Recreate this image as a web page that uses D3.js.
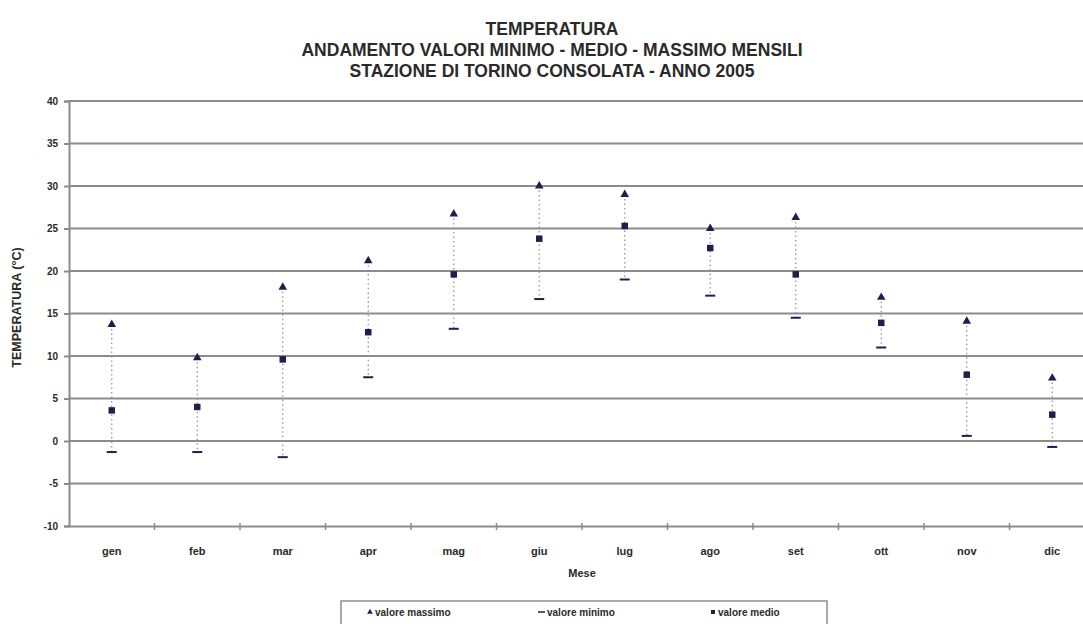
<!DOCTYPE html>
<html>
<head>
<meta charset="utf-8">
<script src="https://cdn.jsdelivr.net/npm/d3@7"></script>
<style>
  html, body { margin: 0; padding: 0; background: #fff; }
  svg { display: block; font-family: "Liberation Sans", Arial, sans-serif; }
</style>
</head>
<body>
<svg id="chart" width="1083" height="624"></svg>
<script>
// Monthly temperature, Torino Consolata station, 2005
const months = ["gen", "feb", "mar", "apr", "mag", "giu", "lug", "ago", "set", "ott", "nov", "dic"];
const maxValues  = [13.7, 9.8, 18.1, 21.2, 26.7, 30.0, 29.0, 25.0, 26.3, 16.9, 14.1, 7.4];
const meanValues = [3.6, 4.0, 9.6, 12.8, 19.6, 23.8, 25.3, 22.7, 19.6, 13.9, 7.8, 3.1];
const minValues  = [-1.3, -1.3, -1.9, 7.5, 13.2, 16.7, 19.0, 17.1, 14.5, 11.0, 0.6, -0.7];
const yTicks = [-10, -5, 0, 5, 10, 15, 20, 25, 30, 35, 40];
const titleLines = [
  "TEMPERATURA",
  "ANDAMENTO VALORI MINIMO - MEDIO - MASSIMO MENSILI",
  "STAZIONE DI TORINO CONSOLATA - ANNO 2005"
];
const legendItems = [
  { key: "max", label: "valore massimo" },
  { key: "min", label: "valore minimo" },
  { key: "mean", label: "valore medio" }
];

const svg = d3.select("#chart");
const markColor = "#1f1f4d";
const gridColor = "#8c8c8c";
const textColor = "#2a2a2a";

const plot = { left: 69, right: 1095, top: 101, bottom: 526 };

const x = d3.scaleBand().domain(months).range([plot.left, plot.right]).padding(0);
const y = d3.scaleLinear().domain([-10, 40]).range([plot.bottom, plot.top]);
const cx = d => x(d.m) + x.bandwidth() / 2;

const data = months.map((m, i) => ({ m, max: maxValues[i], mean: meanValues[i], min: minValues[i] }));

// Title block
const title = svg.append("g").attr("font-weight", "bold").attr("font-size", 17.5).attr("fill", textColor)
  .attr("text-anchor", "middle");
titleLines.forEach((t, i) => {
  title.append("text").attr("x", 552).attr("y", 35 + i * 21).text(t);
});

// Horizontal grid lines
svg.append("g").selectAll("line").data(yTicks.filter(d => d > -10)).join("line")
  .attr("x1", plot.left).attr("x2", plot.right)
  .attr("y1", d => y(d)).attr("y2", d => y(d))
  .attr("stroke", gridColor).attr("stroke-width", 2);

// Y axis
const yAxis = svg.append("g").attr("transform", `translate(${plot.left},0)`)
  .call(d3.axisLeft(y).tickValues(yTicks).tickSize(5).tickPadding(6).tickFormat(d => String(d)));
yAxis.select(".domain").attr("stroke", gridColor).attr("stroke-width", 2);
yAxis.selectAll(".tick line").attr("stroke", gridColor).attr("stroke-width", 2);
yAxis.selectAll(".tick text").attr("font-size", 10).attr("font-weight", "bold").attr("fill", textColor)
  .attr("font-family", "'Liberation Sans', Arial, sans-serif");

// X axis at the bottom of the plot
const xAxis = svg.append("g").attr("transform", `translate(0,${plot.bottom})`)
  .call(d3.axisBottom(x).tickSize(0).tickPadding(21));
xAxis.select(".domain").attr("stroke", gridColor).attr("stroke-width", 2);
xAxis.selectAll(".tick text").attr("font-size", 11).attr("font-weight", "bold").attr("fill", textColor)
  .attr("font-family", "'Liberation Sans', Arial, sans-serif");
// category boundary ticks
svg.append("g").selectAll("line").data(months.slice(1)).join("line")
  .attr("x1", d => x(d)).attr("x2", d => x(d))
  .attr("y1", plot.bottom - 3).attr("y2", plot.bottom + 4)
  .attr("stroke", gridColor).attr("stroke-width", 1.5);

// Axis titles
svg.append("text").attr("transform", `translate(21,${(plot.top + plot.bottom) / 2 - 6}) rotate(-90)`)
  .attr("text-anchor", "middle").attr("font-size", 12.5).attr("font-weight", "bold").attr("fill", textColor)
  .text("TEMPERATURA (°C)");
svg.append("text").attr("x", (plot.left + plot.right) / 2).attr("y", 577)
  .attr("text-anchor", "middle").attr("font-size", 11).attr("font-weight", "bold").attr("fill", textColor)
  .text("Mese");

// Range lines (min to max), dotted
const g = svg.append("g");
g.selectAll("line.range").data(data).join("line").attr("class", "range")
  .attr("x1", cx).attr("x2", cx)
  .attr("y1", d => y(d.max)).attr("y2", d => y(d.min))
  .attr("stroke", "#8a8aa6").attr("stroke-width", 1.2).attr("stroke-dasharray", "1.5,3");

const tri = d3.symbol().type(d3.symbolTriangle).size(32);
const sq = d3.symbol().type(d3.symbolSquare).size(42);

// Minimum: short dash
g.selectAll("line.min").data(data).join("line").attr("class", "min")
  .attr("x1", d => cx(d) - 5).attr("x2", d => cx(d) + 5)
  .attr("y1", d => y(d.min)).attr("y2", d => y(d.min))
  .attr("stroke", markColor).attr("stroke-width", 2);

// Maximum: triangle
g.selectAll("path.max").data(data).join("path").attr("class", "max")
  .attr("d", tri)
  .attr("transform", d => `translate(${cx(d)},${y(d.max)})`)
  .attr("fill", markColor);

// Mean: square
g.selectAll("path.mean").data(data).join("path").attr("class", "mean")
  .attr("d", sq)
  .attr("transform", d => `translate(${cx(d)},${y(d.mean)})`)
  .attr("fill", markColor);

// Legend
const legend = svg.append("g");
legend.append("rect").attr("x", 341).attr("y", 601).attr("width", 486).attr("height", 30)
  .attr("fill", "#fff").attr("stroke", gridColor).attr("stroke-width", 1.5);
const legendX = [367, 539, 710];
legendItems.forEach((item, i) => {
  const lg = legend.append("g").attr("transform", `translate(${legendX[i]},612)`);
  if (item.key === "max") lg.append("path").attr("d", d3.symbol().type(d3.symbolTriangle).size(14)).attr("transform", "translate(3,0)").attr("fill", markColor);
  if (item.key === "min") lg.append("line").attr("x1", -1).attr("x2", 6).attr("y1", 0).attr("y2", 0).attr("stroke", markColor).attr("stroke-width", 1.5);
  if (item.key === "mean") lg.append("path").attr("d", d3.symbol().type(d3.symbolSquare).size(16)).attr("transform", "translate(3,0)").attr("fill", markColor);
  lg.append("text").attr("x", 8).attr("y", 3.5).attr("font-size", 10).attr("font-weight", "bold").attr("fill", textColor).text(item.label);
});
</script>
</body>
</html>
